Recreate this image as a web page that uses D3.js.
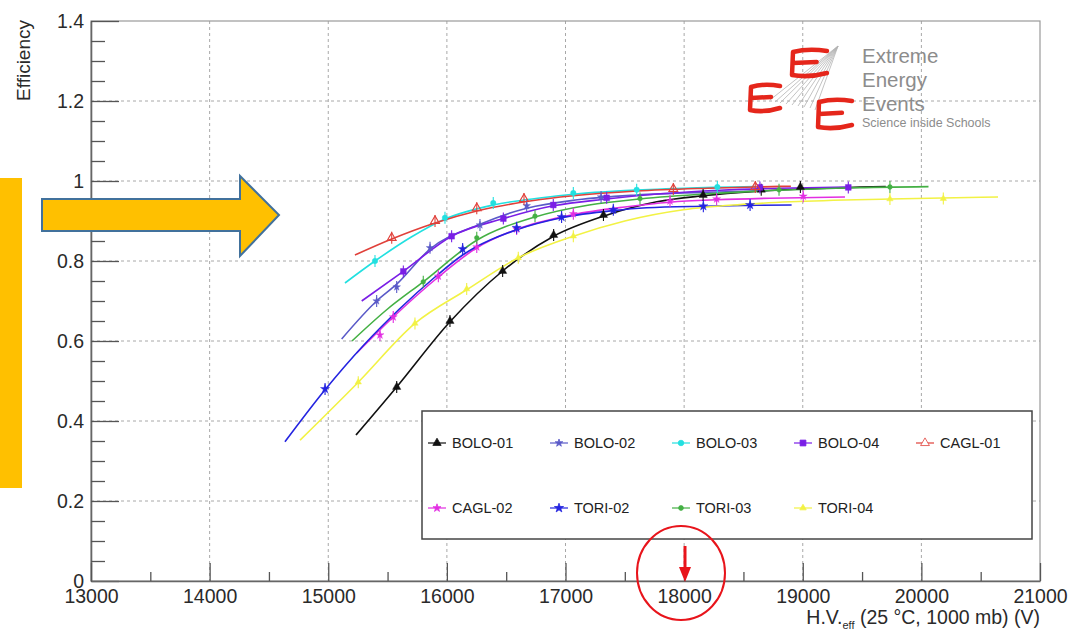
<!DOCTYPE html>
<html>
<head>
<meta charset="utf-8">
<script src="https://d3js.org/d3.v7.min.js"></script>
<style>
    html, body { margin: 0; padding: 0; background: #fff; }
    svg { display: block; font-family: "Liberation Sans", Arial, sans-serif; }
</style>
</head>
<body>
<svg id="chart" width="1075" height="631"></svg>
<script>
// Tick values and labels
var xTicks = [13000, 14000, 15000, 16000, 17000, 18000, 19000, 20000, 21000];
var xMinorTicks = [13500, 14500, 15500, 16500, 17500, 18500, 19500, 20500];
var yTicks = [0, 0.2, 0.4, 0.6, 0.8, 1, 1.2, 1.4];
var yTickLabels = ['0', '0.2', '0.4', '0.6', '0.8', '1', '1.2', '1.4'];

// Chamber names, in legend order
var seriesNames = ['BOLO-01', 'BOLO-02', 'BOLO-03', 'BOLO-04', 'CAGL-01',
                   'CAGL-02', 'TORI-02', 'TORI-03', 'TORI-04'];

// Fitted efficiency curves [HV, efficiency]
var bolo01Fit = [[15234, 0.365], [15577, 0.485], [16026, 0.648], [16470, 0.775], [16900, 0.862], [17320, 0.912], [17770, 0.948], [18160, 0.963], [18600, 0.974], [19000, 0.98], [19700, 0.986]];
var bolo02Fit = [[15113, 0.605], [15408, 0.70], [15577, 0.742], [15858, 0.83], [16279, 0.892], [16673, 0.932], [17100, 0.953], [17600, 0.965], [18200, 0.972], [18700, 0.976]];
var bolo03Fit = [[15141, 0.745], [15394, 0.80], [15700, 0.86], [15984, 0.905], [16391, 0.94], [16800, 0.958], [17066, 0.967], [17500, 0.976], [18000, 0.982], [18600, 0.986]];
var bolo04Fit = [[15282, 0.70], [15633, 0.774], [16040, 0.862], [16476, 0.906], [16897, 0.938], [17347, 0.955], [17800, 0.968], [18300, 0.977], [18800, 0.982], [19384, 0.985]];
var cagl01Fit = [[15225, 0.815], [15535, 0.855], [15900, 0.895], [16252, 0.925], [16700, 0.95], [17066, 0.963], [17600, 0.975], [18200, 0.982], [18900, 0.987]];
var cagl02Fit = [[15240, 0.57], [15548, 0.66], [15928, 0.76], [16252, 0.833], [16588, 0.879], [17066, 0.916], [17500, 0.935], [17881, 0.947], [18274, 0.953], [18725, 0.957], [19356, 0.96]];
var tori02Fit = [[14635, 0.348], [14973, 0.478], [15300, 0.59], [15600, 0.68], [15900, 0.76], [16133, 0.815], [16588, 0.878], [16967, 0.908], [17403, 0.926], [17684, 0.933], [18162, 0.937], [18556, 0.939], [18906, 0.94]];
var tori03Fit = [[15200, 0.60], [15500, 0.68], [15801, 0.748], [16252, 0.852], [16743, 0.91], [17200, 0.94], [17628, 0.955], [18200, 0.968], [18800, 0.977], [19400, 0.983], [20060, 0.986]];
var tori04Fit = [[14762, 0.352], [15253, 0.497], [15731, 0.644], [16167, 0.728], [16602, 0.808], [17066, 0.862], [17500, 0.9], [17994, 0.928], [18472, 0.941], [18900, 0.948], [19735, 0.955], [20646, 0.96]];

// Measured points [HV, efficiency]
var bolo01Pts = [[15577, 0.485], [16026, 0.65], [16470, 0.775], [16900, 0.865], [17320, 0.915], [18160, 0.965], [18650, 0.978], [18980, 0.985]];
var bolo02Pts = [[15408, 0.70], [15577, 0.735], [15858, 0.833], [16279, 0.89], [16673, 0.938], [17300, 0.96]];
var bolo03Pts = [[15394, 0.80], [15984, 0.908], [16391, 0.945], [17066, 0.97], [17600, 0.978], [18280, 0.985]];
var bolo04Pts = [[15633, 0.774], [16040, 0.862], [16476, 0.906], [16897, 0.94], [17347, 0.958], [18639, 0.984], [19384, 0.984]];
var cagl01Pts = [[15535, 0.858], [15900, 0.90], [16252, 0.932], [16650, 0.955], [17909, 0.98], [18600, 0.985]];
var cagl02Pts = [[15436, 0.615], [15548, 0.66], [15928, 0.762], [16252, 0.835], [16588, 0.88], [17066, 0.918], [17881, 0.95], [18274, 0.955], [19004, 0.962]];
var tori02Pts = [[14973, 0.48], [16133, 0.83], [16588, 0.883], [16967, 0.91], [17403, 0.928], [18162, 0.937], [18556, 0.94]];
var tori03Pts = [[15801, 0.748], [16252, 0.858], [16743, 0.912], [17628, 0.956], [18800, 0.978], [19735, 0.985]];
var tori04Pts = [[15253, 0.497], [15731, 0.644], [16167, 0.73], [16602, 0.808], [17066, 0.862], [19735, 0.955], [20185, 0.956]];

var chart = (function () {
    "use strict";

    var colors = ['#111111', '#5a5ac8', '#22e0e0', '#7a1ee6', '#e0403a',
                  '#e22ee2', '#2424e0', '#44b044', '#f2f244'];
    var symbols = [d3.symbolTriangle, d3.symbolStar, d3.symbolCircle, d3.symbolSquare, d3.symbolTriangle,
                   d3.symbolStar, d3.symbolStar, d3.symbolCircle, d3.symbolTriangle];
    var symbolSizes = [30, 18, 24, 34, 34, 20, 26, 18, 18];
    var openMarker = [false, false, false, false, true, false, false, false, false];

    var fits = [bolo01Fit, bolo02Fit, bolo03Fit, bolo04Fit, cagl01Fit, cagl02Fit, tori02Fit, tori03Fit, tori04Fit];
    var points = [bolo01Pts, bolo02Pts, bolo03Pts, bolo04Pts, cagl01Pts, cagl02Pts, tori02Pts, tori03Pts, tori04Pts];

    function draw() {
        var svg = d3.select('#chart');
        var margin = { top: 21, right: 35, bottom: 50, left: 91 };
        var width = 1075 - margin.left - margin.right;
        var height = 631 - margin.top - margin.bottom;
        var g = svg.append('g').attr('transform', 'translate(' + margin.left + ',' + margin.top + ')');

        var x = d3.scaleLinear().domain([13000, 21000]).range([0, width]);
        var y = d3.scaleLinear().domain([0, 1.4]).range([height, 0]);

        // Grid
        g.append('g').selectAll('line')
            .data(xTicks.slice(1, -1))
            .enter().append('line')
            .attr('x1', function (d) { return x(d); })
            .attr('x2', function (d) { return x(d); })
            .attr('y1', 0).attr('y2', height)
            .attr('stroke', '#a8a8a8').attr('stroke-width', 1)
            .attr('stroke-dasharray', '3,3');
        g.append('g').selectAll('line')
            .data(yTicks.slice(1, -1))
            .enter().append('line')
            .attr('x1', 0).attr('x2', width)
            .attr('y1', function (d) { return y(d); })
            .attr('y2', function (d) { return y(d); })
            .attr('stroke', '#a8a8a8').attr('stroke-width', 1)
            .attr('stroke-dasharray', '3,3');

        // Frame
        g.append('rect')
            .attr('x', 0).attr('y', 0)
            .attr('width', width).attr('height', height)
            .attr('fill', 'none').attr('stroke', '#9a9a9a').attr('stroke-width', 1.2);

        // Y axis, ROOT style ticks pointing inward
        g.append('g')
            .call(d3.axisLeft(y).tickValues(yTicks)
                .tickFormat(function (d, i) { return yTickLabels[i]; })
                .tickSizeInner(-28).tickSizeOuter(0).tickPadding(7));
        g.append('g')
            .call(d3.axisLeft(y).tickValues(d3.range(0.05, 1.4, 0.05).filter(function (v) {
                return Math.abs(v * 5 - Math.round(v * 5)) > 0.01;
            })).tickFormat('').tickSizeInner(-14).tickSizeOuter(0))
            .select('.domain').remove();

        // X axis
        g.append('g')
            .attr('transform', 'translate(0,' + height + ')')
            .call(d3.axisBottom(x).tickValues(xTicks).tickFormat(d3.format('d'))
                .tickSizeInner(-18).tickSizeOuter(0).tickPadding(8));
        g.append('g')
            .attr('transform', 'translate(0,' + height + ')')
            .call(d3.axisBottom(x).tickValues(xMinorTicks).tickFormat('')
                .tickSizeInner(-9).tickSizeOuter(0))
            .select('.domain').remove();

        g.selectAll('.tick line').attr('stroke', '#555').attr('stroke-width', 1.3);
        g.selectAll('.domain').attr('stroke', '#666').attr('stroke-width', 1.6);
        g.selectAll('.tick text')
            .attr('fill', '#2a2a2a')
            .style('font-size', '19.5px')
            .style('font-family', '"Liberation Sans", Arial, sans-serif');

        // Axis titles
        svg.append('text')
            .attr('transform', 'translate(30,20) rotate(-90)')
            .attr('text-anchor', 'end')
            .attr('fill', '#2a2a2a')
            .style('font-size', '19px')
            .text('Efficiency');

        var xt = svg.append('text')
            .attr('x', 1040).attr('y', 624)
            .attr('text-anchor', 'end')
            .attr('fill', '#2a2a2a')
            .style('font-size', '19.5px');
        xt.append('tspan').text('H.V.');
        xt.append('tspan').attr('dy', 5).style('font-size', '11px').text('eff');
        xt.append('tspan').attr('dy', -5).text(' (25 \u00B0C, 1000 mb) (V)');

        // Fitted curves
        var line = d3.line()
            .x(function (d) { return x(d[0]); })
            .y(function (d) { return y(d[1]); })
            .curve(d3.curveMonotoneX);

        fits.forEach(function (fit, i) {
            g.append('path')
                .datum(fit)
                .attr('fill', 'none')
                .attr('stroke', colors[i])
                .attr('stroke-width', 1.6)
                .attr('stroke-linejoin', 'round')
                .attr('d', line);
        });

        // Data points with small error bars
        points.forEach(function (pts, i) {
            var pg = g.append('g');
            pg.selectAll('line')
                .data(pts)
                .enter().append('line')
                .attr('x1', function (d) { return x(d[0]); })
                .attr('x2', function (d) { return x(d[0]); })
                .attr('y1', function (d) { return y(d[1]) - 6; })
                .attr('y2', function (d) { return y(d[1]) + 6; })
                .attr('stroke', colors[i]).attr('stroke-width', 1.1);
            pg.selectAll('path')
                .data(pts)
                .enter().append('path')
                .attr('transform', function (d) { return 'translate(' + x(d[0]) + ',' + y(d[1]) + ')'; })
                .attr('d', d3.symbol().type(symbols[i]).size(symbolSizes[i]))
                .attr('fill', openMarker[i] ? 'none' : colors[i])
                .attr('stroke', colors[i])
                .attr('stroke-width', openMarker[i] ? 1.1 : 0.4);
        });

        // Legend
        var legend = svg.append('g').attr('class', 'legend');
        legend.append('rect')
            .attr('x', 422).attr('y', 411)
            .attr('width', 610).attr('height', 128)
            .attr('fill', '#fff')
            .attr('stroke', '#444').attr('stroke-width', 1.5);

        var entries = legend.selectAll('g.entry')
            .data(seriesNames)
            .enter().append('g')
            .attr('class', 'entry')
            .attr('transform', function (d, i) {
                return 'translate(' + (437 + (i % 5) * 122) + ',' + (i < 5 ? 443 : 508) + ')';
            });
        entries.append('line')
            .attr('x1', -9).attr('x2', 9)
            .attr('stroke', function (d, i) { return colors[i]; })
            .attr('stroke-width', 1.2);
        entries.append('path')
            .attr('d', function (d, i) { return d3.symbol().type(symbols[i]).size(symbolSizes[i])(); })
            .attr('fill', function (d, i) { return openMarker[i] ? '#fff' : colors[i]; })
            .attr('stroke', function (d, i) { return colors[i]; })
            .attr('stroke-width', 0.8);
        entries.append('text')
            .attr('x', 15).attr('dy', '0.35em')
            .attr('fill', '#222')
            .style('font-size', '14.5px')
            .text(function (d) { return d; });

        drawLogo(svg);
        drawAnnotations(svg);
    }

    // Extreme Energy Events logo
    function drawLogo(svg) {
        var logo = svg.append('g').attr('class', 'logo');
        var apex = [838, 46];
        var fanEnds = [[770, 100], [775, 102], [780, 103], [786, 104], [792, 105], [798, 106], [804, 107], [810, 108], [815, 110]];
        logo.selectAll('line.fan')
            .data(fanEnds)
            .enter().append('line')
            .attr('class', 'fan')
            .attr('x1', apex[0]).attr('y1', apex[1])
            .attr('x2', function (d) { return d[0]; })
            .attr('y2', function (d) { return d[1]; })
            .attr('stroke', '#b4b4b4').attr('stroke-width', 0.8);

        var eBoxes = [[790, 49, 37, 28], [748, 84, 32, 28], [816, 99, 36, 30]];
        eBoxes.forEach(function (b) {
            var bx = b[0], by = b[1], w = b[2], h = b[3];
            var p = d3.path();
            p.moveTo(bx + w, by + 2);
            p.quadraticCurveTo(bx + w * 0.5, by - 1, bx + 3, by + 3);
            p.lineTo(bx + 2, by + h - 2);
            p.quadraticCurveTo(bx + w * 0.5, by + h + 1, bx + w, by + h - 4);
            p.moveTo(bx + 3, by + h * 0.5);
            p.lineTo(bx + w * 0.72, by + h * 0.46);
            logo.append('path')
                .attr('d', p.toString())
                .attr('fill', 'none')
                .attr('stroke', '#e5261b')
                .attr('stroke-width', 4.5)
                .attr('stroke-linecap', 'round')
                .attr('stroke-linejoin', 'round');
        });

        var words = [['Extreme', 63, 20.5], ['Energy', 87, 20.5], ['Events', 111, 20.5], ['Science inside Schools', 127, 12.5]];
        logo.selectAll('text')
            .data(words)
            .enter().append('text')
            .attr('x', 862)
            .attr('y', function (d) { return d[1]; })
            .attr('fill', '#8c8c8c')
            .style('font-size', function (d) { return d[2] + 'px'; })
            .text(function (d) { return d[0]; });
    }

    // Slide overlays: orange bar and arrow, red circle on 18000 V
    function drawAnnotations(svg) {
        svg.append('rect')
            .attr('x', 0).attr('y', 178)
            .attr('width', 22).attr('height', 310)
            .attr('fill', '#ffc000');

        svg.append('polygon')
            .attr('points', '42,199 240,199 240,176 279,215 240,256 240,231 42,231')
            .attr('fill', '#ffc000')
            .attr('stroke', '#41719c')
            .attr('stroke-width', 2)
            .attr('stroke-linejoin', 'miter');

        svg.append('ellipse')
            .attr('cx', 681).attr('cy', 573)
            .attr('rx', 44).attr('ry', 47)
            .attr('fill', 'none')
            .attr('stroke', '#e8141b')
            .attr('stroke-width', 2);

        svg.append('line')
            .attr('x1', 685).attr('x2', 685)
            .attr('y1', 546).attr('y2', 572)
            .attr('stroke', '#e8141b').attr('stroke-width', 3);
        svg.append('polygon')
            .attr('points', '679,567 691,567 685,582')
            .attr('fill', '#e8141b');
    }

    return { draw: draw };
})();

chart.draw();
</script>
</body>
</html>
